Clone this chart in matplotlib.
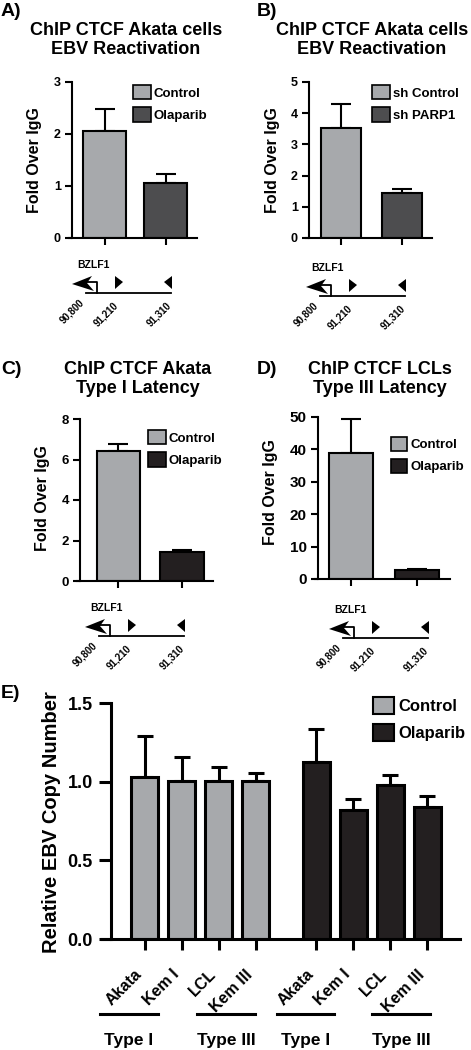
import matplotlib
matplotlib.use('Agg')
import matplotlib.pyplot as plt
from matplotlib.patches import Polygon, Patch
import numpy as np

plt.rcParams['font.family'] = ['Liberation Sans', 'DejaVu Sans']
plt.rcParams['font.weight'] = 'bold'
plt.rcParams['axes.labelweight'] = 'bold'

# ---------------- data ----------------
a_labels = ['Control', 'Olaparib']
a_values = [2.05, 1.05]
a_errors = [0.44, 0.19]

b_labels = ['sh Control', 'sh PARP1']
b_values = [3.54, 1.45]
b_errors = [0.74, 0.12]

c_labels = ['Control', 'Olaparib']
c_values = [6.40, 1.41]
c_errors = [0.38, 0.12]

d_labels = ['Control', 'Olaparib']
d_values = [38.8, 2.9]
d_errors = [10.7, 0.25]

e_cells = ['Akata', 'Kem I', 'LCL', 'Kem III']
e_control = [1.03, 1.005, 1.005, 1.005]
e_control_err = [0.26, 0.15, 0.09, 0.05]
e_olaparib = [1.125, 0.817, 0.98, 0.836]
e_olaparib_err = [0.21, 0.074, 0.063, 0.074]
e_series = ['Control', 'Olaparib']
e_types = ['Type I', 'Type III', 'Type I', 'Type III']

gene_name = 'BZLF1'
gene_coords = ['90,800', '91,210', '91,310']

titles = ['ChIP CTCF Akata cells\nEBV Reactivation',
          'ChIP CTCF Akata cells\nEBV Reactivation',
          'ChIP CTCF Akata\nType I Latency',
          'ChIP CTCF LCLs\nType III Latency']
ylabel_fold = 'Fold Over IgG'
ylabel_e = 'Relative EBV Copy Number'

LIGHT = '#a7a9ac'
DARK = '#4d4d4f'
BLACK = '#231f20'

W, H = 471, 1050
fig = plt.figure(figsize=(W / 100, H / 100), dpi=100)


def px_axes(x0, y0, x1, y1):
    return fig.add_axes([x0 / W, 1 - y1 / H, (x1 - x0) / W, (y1 - y0) / H])


def bar_panel(rect, values, errors, labels, colors, ylim, yticks, xlim, width,
              tick_fs, leg_xy, leg_fs, hl, hh, ls, tp, capsize=7, lw=1.5):
    ax = px_axes(*rect)
    x = np.arange(len(values))
    ax.bar(x, values, width=width, color=colors, edgecolor='black',
           linewidth=lw, zorder=2)
    ax.errorbar(x, values, yerr=[np.zeros(len(values)), errors], fmt='none',
                ecolor='black', elinewidth=lw, capsize=capsize, capthick=lw,
                zorder=1)
    ax.set_xlim(*xlim)
    ax.set_ylim(*ylim)
    ax.set_yticks(yticks)
    ax.set_xticks(x)
    ax.spines[['top', 'right']].set_visible(False)
    for s in ('left', 'bottom'):
        ax.spines[s].set_linewidth(lw)
    ax.spines['bottom'].set_bounds(xlim[0] - 0.05, xlim[1])
    ax.tick_params(axis='y', length=5, width=lw, labelsize=tick_fs, pad=3)
    ax.tick_params(axis='x', length=5, width=lw, labelbottom=False)
    for t in ax.get_yticklabels():
        t.set_fontweight('bold')
    handles = [Patch(facecolor=c, edgecolor='black', linewidth=1.2, label=l)
               for c, l in zip(colors, labels)]
    ax.legend(handles=handles, loc='upper left',
              bbox_to_anchor=(leg_xy[0] / W, 1 - leg_xy[1] / H),
              bbox_transform=fig.transFigure, frameon=False, borderpad=0,
              borderaxespad=0, handlelength=hl, handleheight=hh,
              labelspacing=ls, handletextpad=tp,
              prop={'size': leg_fs, 'weight': 'bold'})
    return ax


# Panel A
bar_panel((72, 82, 197, 238), a_values, a_errors, a_labels, [LIGHT, DARK],
          (0, 3), [0, 1, 2, 3], (-0.533, 1.516), 0.7, 9,
          (133, 85), 9.5, 1.36, 1.29, 0.6, 0.2)
# Panel B
bar_panel((309, 82, 432, 238), b_values, b_errors, b_labels, [LIGHT, DARK],
          (0, 5), [0, 1, 2, 3, 4, 5], (-0.53, 1.50), 0.66, 9,
          (372, 85), 9.5, 1.36, 1.29, 0.6, 0.2)
# Panel C
bar_panel((80, 419, 213, 581), c_values, c_errors, c_labels, [LIGHT, BLACK],
          (0, 8), [0, 2, 4, 6, 8], (-0.606, 1.488), 0.685, 9.5,
          (148, 430), 9.5, 1.36, 1.29, 0.6, 0.2)
# Panel D
bar_panel((318, 417, 450, 579), d_values, d_errors, d_labels, [LIGHT, BLACK],
          (0, 50), [0, 10, 20, 30, 40, 50], (-0.504, 1.51), 0.67, 11,
          (391, 437), 9.5, 1.2, 1.2, 0.6, 0.25)

# Panel E
axE = px_axes(111, 703, 460, 939)
xc = np.arange(len(e_cells))
xo = xc + 4.65
lwE = 2.2
axE.bar(xc, e_control, width=0.73, color=LIGHT, edgecolor='black',
        linewidth=lwE, zorder=2)
axE.bar(xo, e_olaparib, width=0.73, color=BLACK, edgecolor='black',
        linewidth=lwE, zorder=2)
axE.errorbar(xc, e_control, yerr=[np.zeros(4), e_control_err], fmt='none',
             ecolor='black', elinewidth=lwE, capsize=5.5, capthick=lwE, zorder=1)
axE.errorbar(xo, e_olaparib, yerr=[np.zeros(4), e_olaparib_err], fmt='none',
             ecolor='black', elinewidth=lwE, capsize=5.5, capthick=lwE, zorder=1)
axE.set_xlim(-0.92, 8.54)
axE.set_ylim(0, 1.5)
axE.set_yticks([0, 0.5, 1.0, 1.5])
axE.set_yticklabels(['0.0', '0.5', '1.0', '1.5'])
axE.set_xticks(np.concatenate([xc, xo]))
axE.set_xticklabels(e_cells + e_cells, rotation=45, ha='right')
axE.spines[['top', 'right']].set_visible(False)
for s in ('left', 'bottom'):
    axE.spines[s].set_linewidth(lwE)
axE.spines['bottom'].set_bounds(-0.92 - 9 / 37, 8.54)
axE.tick_params(axis='y', length=9, width=lwE, labelsize=13, pad=4)
axE.tick_params(axis='x', length=8, width=lwE, labelsize=11.5, pad=12)
for t in axE.get_yticklabels() + axE.get_xticklabels():
    t.set_fontweight('bold')
hE = [Patch(facecolor=c, edgecolor='black', linewidth=1.5, label=l)
      for c, l in zip([LIGHT, BLACK], e_series)]
axE.legend(handles=hE, loc='upper left', bbox_to_anchor=(373 / W, 1 - 697 / H),
           bbox_transform=fig.transFigure, frameon=False, borderpad=0,
           borderaxespad=0, handlelength=1.26, handleheight=1.2,
           labelspacing=0.6, handletextpad=0.24,
           prop={'size': 12, 'weight': 'bold'})

# ---------------- overlay for annotations (pixel coordinates) ----------------
ov = fig.add_axes([0, 0, 1, 1], zorder=-1)
ov.set_xlim(0, W)
ov.set_ylim(H, 0)
ov.axis('off')


def gene(ox, oy):
    ov.plot([ox, ox + 85], [oy, oy], color='black', lw=1.3)
    ov.plot([ox + 11, ox + 11, ox + 1], [oy, oy - 11, oy - 11], color='black', lw=1.3)
    ov.add_patch(Polygon([(ox - 14, oy - 9), (ox + 6, oy - 17), (ox + 1, oy - 10),
                          (ox + 8, oy - 2)], closed=True, color='black', lw=0))
    ov.add_patch(Polygon([(ox + 29, oy - 17), (ox + 37, oy - 11), (ox + 29, oy - 4)],
                         closed=True, color='black', lw=0))
    ov.add_patch(Polygon([(ox + 86, oy - 17), (ox + 78, oy - 11), (ox + 86, oy - 4)],
                         closed=True, color='black', lw=0))
    ov.text(ox - 9, oy - 28, gene_name, fontsize=7.5, fontweight='bold',
            ha='left', va='center')
    for (dx, dy), lab in zip([(0, 4), (34, 7), (87, 7)], gene_coords):
        ov.text(ox + dx, oy + dy, lab, fontsize=7, fontweight='bold',
                rotation=45, ha='right', va='top')


gene(86, 293)
gene(320, 296)
gene(99, 636)
gene(343, 638)

# titles
for (cx, cy), t in zip([(126, 40), (372, 40), (138, 379), (380, 379)], titles):
    ov.text(cx, cy, t, fontsize=13, fontweight='bold', ha='center', va='center',
            linespacing=1.2)

# panel labels
for (px, py), t in zip([(1, 12), (257, 12), (1, 369), (257, 369), (1, 693)],
                       ['A)', 'B)', 'C)', 'D)', 'E)']):
    ov.text(px, py, t, fontsize=14, fontweight='bold', ha='left', va='center')

# y labels
for (px, py) in [(34, 160), (273, 160), (42, 498), (270, 492)]:
    ov.text(px, py, ylabel_fold, fontsize=11.5, fontweight='bold', rotation=90,
            ha='center', va='center')
ov.text(52, 822, ylabel_e, fontsize=14.5, fontweight='bold', rotation=90,
        ha='center', va='center')

# group lines and type labels under panel E
for (x0, x1), t in zip([(100, 158), (197, 255), (277, 334), (372, 430)], e_types):
    ov.plot([x0, x1], [1014, 1014], color='black', lw=2.2)
    ov.text((x0 + x1) / 2, 1040, t, fontsize=12.5, fontweight='bold',
            ha='center', va='center')

fig.savefig('out.png', dpi=100)
